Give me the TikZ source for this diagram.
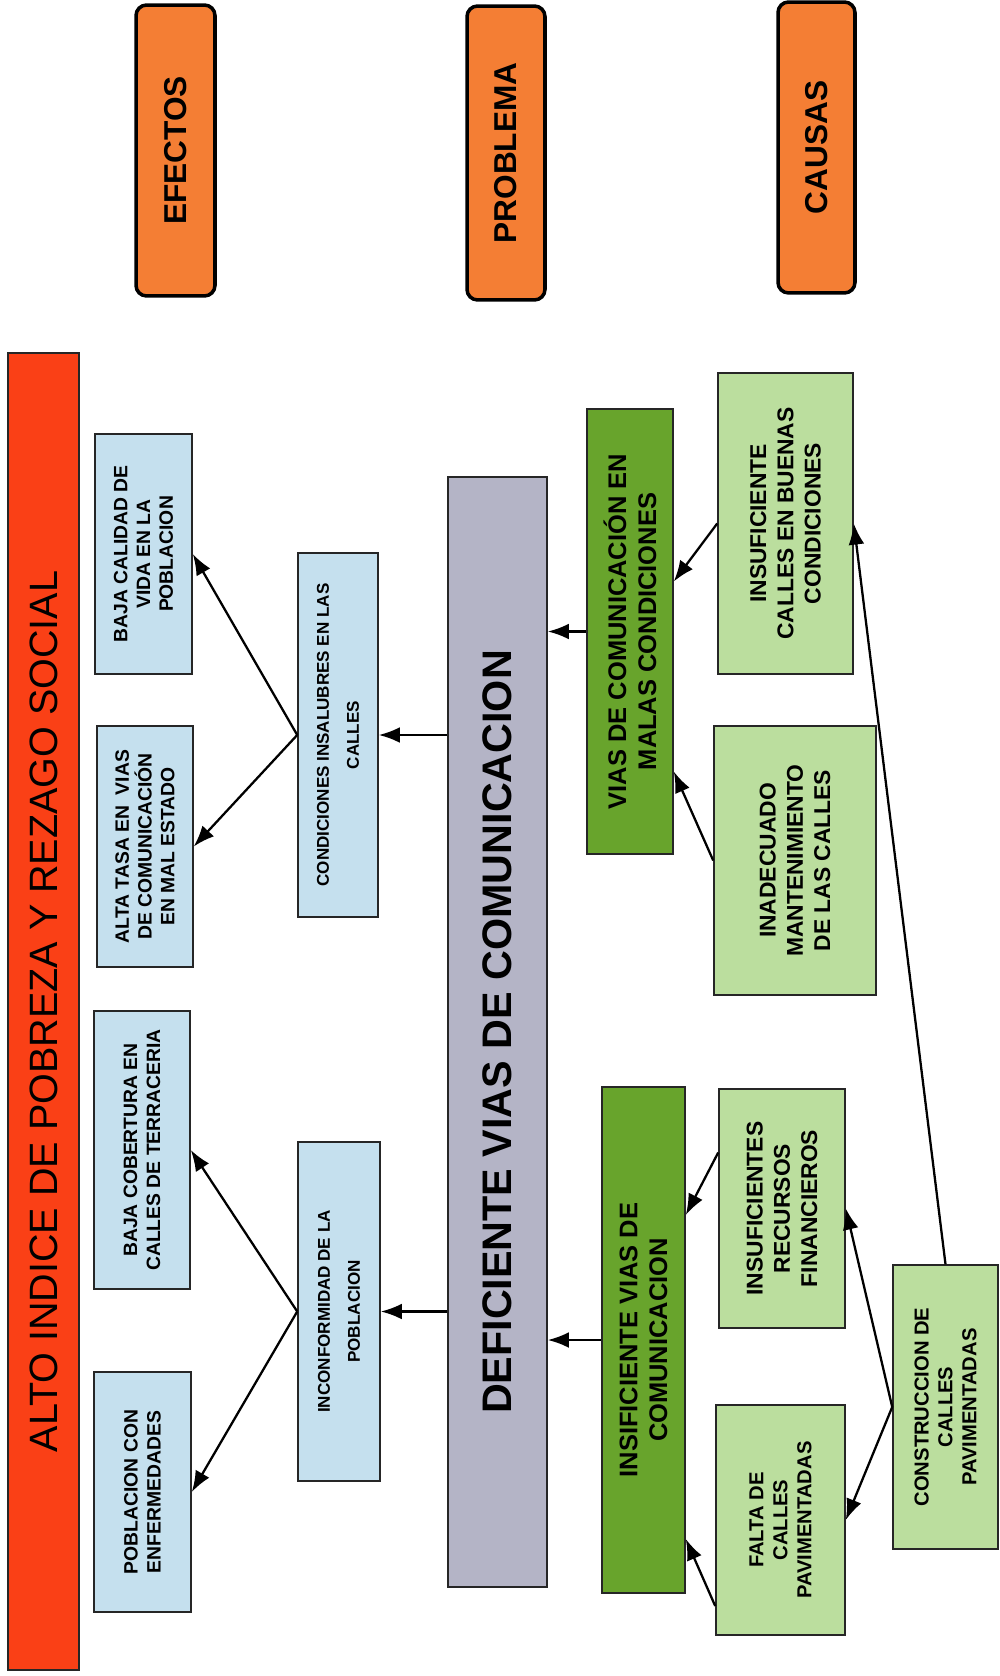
\documentclass[tikz,border=0pt]{standalone}
\usepackage{fontspec}
\setmainfont{Liberation Sans}
\usetikzlibrary{arrows.meta,calc}

\definecolor{titlered}{RGB}{250,64,22}
\definecolor{labelorange}{RGB}{244,126,52}
\definecolor{effblue}{RGB}{197,224,238}
\definecolor{probgrey}{RGB}{180,180,198}
\definecolor{darkgreen}{RGB}{104,164,44}
\definecolor{lightgreen}{RGB}{187,222,158}

\tikzset{
  box/.style={draw=black!85, line width=0.9pt, rotate=90, align=center, inner sep=0pt, font=\bfseries},
  headbox/.style={box, fill=labelorange, draw=black, line width=2pt, rounded corners=6pt, font=\fontsize{18}{20}\selectfont\bfseries},
  effbox/.style={box, fill=effblue, font=\fontsize{11}{13}\selectfont\bfseries},
  midbox/.style={box, fill=effblue, font=\fontsize{9.7}{17}\selectfont\bfseries},
  greenbox/.style={box, fill=darkgreen, font=\fontsize{14.5}{17}\selectfont\bfseries},
  causebox/.style={box, fill=lightgreen, font=\fontsize{13}{15.5}\selectfont\bfseries},
  arr/.style={-{Latex[length=12pt,width=9pt]}, line width=1.3pt}
}

\begin{document}
\begin{tikzpicture}[x=0.02cm, y=-0.02cm]
  \useasboundingbox (0,0) rectangle (1000,1676);

  \node[box, fill=titlered, minimum width=26.34cm, minimum height=1.42cm, font=\fontsize{22.5}{24}\selectfont] (title) at (43.5,1011.5) {ALTO INDICE DE POBREZA Y REZAGO SOCIAL};

  \node[headbox, minimum width=5.82cm, minimum height=1.58cm] (efectos) at (175.5,150.5) {EFECTOS};
  \node[headbox, minimum width=5.88cm, minimum height=1.56cm] (problema) at (506,153) {PROBLEMA};
  \node[headbox, minimum width=5.82cm, minimum height=1.54cm] (causas) at (816.5,147.5) {CAUSAS};

  \node[effbox, minimum width=4.8cm, minimum height=1.94cm] (bajacal) at (143.5,554) {BAJA CALIDAD DE\\VIDA EN LA\\POBLACION};
  \node[effbox, minimum width=4.82cm, minimum height=1.92cm] (altatasa) at (145,846.5) {ALTA TASA EN\ \ VIAS\\DE COMUNICACIÓN\\EN MAL ESTADO};
  \node[effbox, minimum width=5.56cm, minimum height=1.92cm] (bajacob) at (142,1150) {BAJA COBERTURA EN\\CALLES DE TERRACERIA};
  \node[effbox, minimum width=4.8cm, minimum height=1.94cm] (poblenf) at (142.5,1492) {POBLACION CON\\ENFERMEDADES};

  \node[midbox, minimum width=7.28cm, minimum height=1.6cm] (insalub) at (338,735) {CONDICIONES INSALUBRES EN LAS\\CALLES};
  \node[midbox, minimum width=6.78cm, minimum height=1.64cm] (inconf) at (339,1311.5) {INCONFORMIDAD DE LA\\POBLACION};

  \node[box, fill=probgrey, minimum width=22.2cm, minimum height=1.98cm, font=\fontsize{23.5}{26}\selectfont\bfseries] (deficiente) at (497.5,1032) {DEFICIENTE VIAS DE COMUNICACION};

  \node[greenbox, minimum width=8.9cm, minimum height=1.72cm] (malascond) at (630,631.5) {VIAS DE COMUNICACIÓN EN\\MALAS CONDICIONES};
  \node[greenbox, minimum width=10.12cm, minimum height=1.66cm] (insufvias) at (643.5,1340) {INSIFICIENTE VIAS DE\\COMUNICACION};

  \node[causebox, minimum width=6.02cm, minimum height=2.7cm] (buenas) at (785.5,523.5) {INSUFICIENTE\\CALLES EN BUENAS\\CONDICIONES};
  \node[causebox, minimum width=5.38cm, minimum height=3.24cm] (mantenim) at (795,860.5) {INADECUADO\\MANTENIMIENTO\\DE LAS CALLES};
  \node[causebox, minimum width=4.78cm, minimum height=2.52cm] (recursos) at (782,1208.5) {INSUFICIENTES\\RECURSOS\\FINANCIEROS};
  \node[causebox, minimum width=4.6cm, minimum height=2.58cm, font=\fontsize{11.5}{13.6}\selectfont\bfseries] (faltapav) at (780.5,1520) {FALTA DE\\CALLES\\PAVIMENTADAS};
  \node[causebox, minimum width=5.68cm, minimum height=2.1cm, font=\fontsize{11.5}{13.6}\selectfont\bfseries] (construc) at (945.5,1407) {CONSTRUCCION DE\\CALLES\\PAVIMENTADAS};

  \draw[arr] (insalub.north) -- (bajacal.south);
  \draw[arr] (insalub.north) -- (altatasa.south);
  \draw[arr] (inconf.north) -- (bajacob.south);
  \draw[arr] (inconf.north) -- (poblenf.south);
  \draw[arr] (deficiente.north |- insalub.south) -- (insalub.south);
  \draw[arr] (deficiente.north |- inconf.south) -- (inconf.south);
  \draw[arr] (malascond.north) -- (deficiente.south |- malascond.north);
  \draw[arr] (insufvias.north) -- (deficiente.south |- insufvias.north);
  \draw[arr] (buenas.north) -- ($(malascond.south)+(0,-50)$);
  \draw[arr] (mantenim.north) -- ($(malascond.south)+(0,140)$);
  \draw[arr] ($(recursos.north)+(0,-56)$) -- ($(insufvias.south)+(0,-125)$);
  \draw[arr] ($(faltapav.north)+(0,86)$) -- ($(insufvias.south)+(0,199)$);
  \draw[arr] (construc.north) -- (recursos.south);
  \draw[arr] (construc.north) -- (faltapav.south);
  \draw[arr] (construc.east) -- (buenas.south);
\end{tikzpicture}
\end{document}
